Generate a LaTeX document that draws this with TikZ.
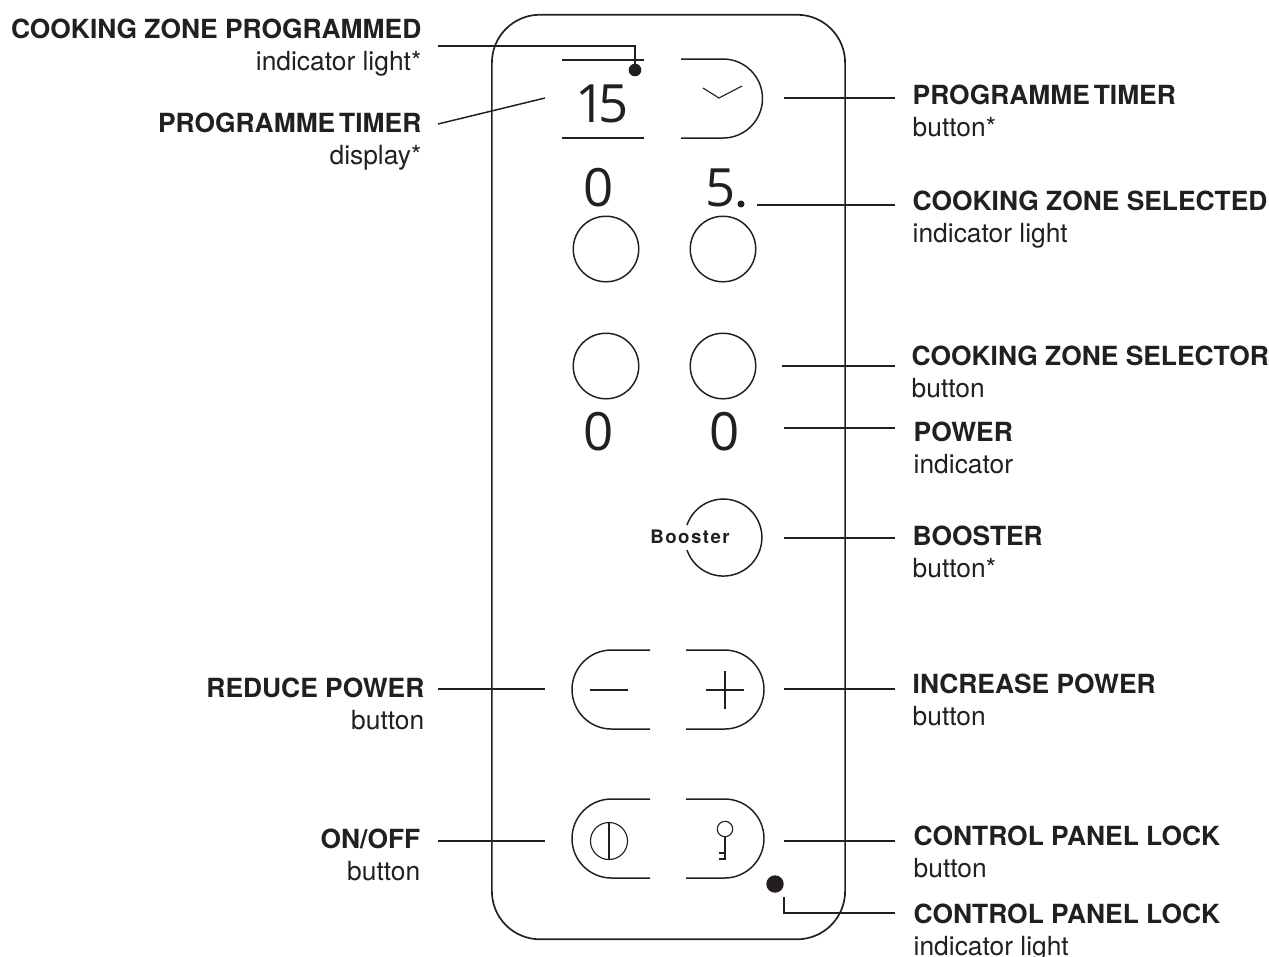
\documentclass[tikz,border=0pt]{standalone}
\usepackage{fontspec}
\setmainfont{TeX Gyre Heros}
\newfontfamily\digitfont{Open Sans}
\usetikzlibrary{positioning}
\definecolor{PanelInk}{RGB}{35, 31, 32}
\tikzset{
  % Outer panel outline
  panelbox/.style={
    rectangle, rounded corners=0.48cm, draw=PanelInk, line width=0.48pt,
    minimum width=3.53cm, minimum height=9.24cm, inner sep=0pt
  },
  % Round selector button
  roundbtn/.style={
    circle, draw=PanelInk, line width=0.42pt,
    minimum size=0.655cm, inner sep=0pt
  },
  % Half open button outline
  btnline/.style={draw=PanelInk, line width=0.42pt},
  % Small symbol strokes inside the buttons
  symline/.style={draw=PanelInk, line width=0.32pt},
  % Display digits
  digits/.style={
    font=\digitfont\fontsize{15}{15}\selectfont, text=PanelInk, inner sep=0pt
  },
  % Indicator light
  lamp/.style={circle, fill=PanelInk, inner sep=0pt},
  % Leader lines
  leader/.style={draw=PanelInk, line width=0.42pt},
  % Text beside the panel
  calloutleft/.style={
    anchor=east, align=right, text=PanelInk, inner sep=0pt,
    font=\fontsize{7.5}{9.1}\selectfont
  },
  calloutright/.style={
    anchor=west, align=left, text=PanelInk, inner sep=0pt,
    font=\fontsize{7.5}{9.1}\selectfont
  }
}
% name, leader y, leader start x, label x, label y, bold text, plain text
\newcommand{\RightCall}[7]{
  \coordinate (#1_from) at (#3,#2);
  \coordinate (#1_to) at (895,#2);
  \node[calloutright] (#1_lab) at (#4,#5) {\textbf{#6}\\#7};
  \draw[leader] (#1_from) -- (#1_to);
}
% name, label right x, label y, bold text, plain text
\newcommand{\LeftLabel}[5]{
  \node[calloutleft] (#1_lab) at (#2,#3) {\textbf{#4}\\#5};
}

\begin{document}
\begin{tikzpicture}[x=0.01cm, y=-0.01cm]
  \useasboundingbox (0,0) rectangle (1269,956);

  % ── Panel ─────────────────────────────────────────────────────────────────
  \node[panelbox] (panel) at (668.5,477) {};

  % ── Programme timer row ───────────────────────────────────────────────────
  \coordinate (disp_tl) at (562,60);
  \coordinate (disp_tr) at (644,60);
  \coordinate (disp_bl) at (562,138);
  \coordinate (disp_br) at (644,138);
  \draw[btnline] (disp_tl) -- (disp_tr);
  \draw[btnline] (disp_bl) -- (disp_br);
  \node[digits] (disp) at (602,104) {1\kern-0.15em 5};
  \node[lamp, minimum size=0.126cm] (prog_lamp) at (635,70) {};
  \draw[btnline] (681,59) -- (723,59) arc[start angle=-90, end angle=90, radius=39.5] -- (681,138);
  \draw[symline] (703,88) -- (719,98) -- (742,86);

  % ── Cooking zones ─────────────────────────────────────────────────────────
  \node[digits] (zone_a) at (599,188) {0};
  \node[digits] (zone_b) at (721,188) {5};
  \node[lamp, minimum size=0.07cm] (zone_lamp) at (741,204) {};
  \node[roundbtn] (sel_a) at (606,249) {};
  \node[roundbtn] (sel_b) at (723,249) {};
  \node[roundbtn] (sel_c) at (606,366) {};
  \node[roundbtn] (sel_d) at (723,366) {};
  \node[digits] (pow_a) at (599,432) {0};
  \node[digits] (pow_b) at (725,432) {0};

  % ── Booster ───────────────────────────────────────────────────────────────
  \draw[btnline] (687,525) arc[start angle=-161, end angle=161, radius=38.5];
  \node[font=\fontsize{5.3}{6}\selectfont\bfseries, text=PanelInk, inner sep=0pt] (boost)
        at (690,537) {B\kern0.08em o\kern0.08em o\kern0.08em s\kern0.08em t\kern0.08em e\kern0.08em r};

  % ── Reduce and increase ───────────────────────────────────────────────────
  \draw[btnline] (650,650) -- (611.5,650) arc[start angle=-90, end angle=-270, radius=39.5] -- (650,729);
  \draw[btnline] (686,650) -- (724.5,650) arc[start angle=-90, end angle=90, radius=39.5] -- (686,729);
  \draw[symline] (590,690) -- (628,690);
  \draw[symline] (706,690) -- (744,690);
  \draw[symline] (725,671) -- (725,709);

  % ── On/off and lock ───────────────────────────────────────────────────────
  \draw[btnline] (650,799) -- (611.5,799) arc[start angle=-90, end angle=-270, radius=39.5] -- (650,878);
  \draw[btnline] (686,799) -- (724.5,799) arc[start angle=-90, end angle=90, radius=39.5] -- (686,878);
  \node[circle, symline, minimum size=0.37cm, inner sep=0pt] (power) at (609,841) {};
  \draw[symline] (power.north) -- (power.south);
  \node[circle, symline, minimum size=0.154cm, inner sep=0pt] (key) at (725,829) {};
  \coordinate (key_end) at (725,859);
  \draw[symline] (key.south) -- (key_end) -- ++(-6,0);
  \draw[symline] (725,853) -- (719,853);
  \node[lamp, minimum size=0.174cm] (lock_lamp) at (775,884) {};

  % ── Labels on the left ────────────────────────────────────────────────────
  \LeftLabel{prog}{422}{47.5}{COOKING ZONE PROGRAMMED}{indicator light*}
  \coordinate (prog_from) at (438,46);
  \draw[leader] (prog_from) -| (prog_lamp.center);

  \LeftLabel{disp}{422}{141.5}{PROGRAMME\hspace{0.15em}TIMER}{display*}
  \coordinate (disp_from) at (438,124);
  \coordinate (disp_to) at (545,98);
  \draw[leader] (disp_from) -- (disp_to);

  \LeftLabel{red}{425}{704}{REDUCE POWER}{button}
  \coordinate (red_from) at (438,689);
  \coordinate (red_to) at (545,689);
  \draw[leader] (red_from) -- (red_to);

  \LeftLabel{onoff}{421}{855}{ON/OFF}{button}
  \coordinate (onoff_from) at (438,841);
  \coordinate (onoff_to) at (545,841);
  \draw[leader] (onoff_from) -- (onoff_to);

  % ── Labels on the right ───────────────────────────────────────────────────
  \RightCall{timer}{98}{784}{912}{111}{PROGRAMME\hspace{0.15em}TIMER}{button*}
  \RightCall{zone}{205}{757}{912}{220}{COOKING ZONE SELECTED}{indicator light}
  \RightCall{sel}{366}{782}{911}{371.5}{COOKING ZONE SELECTOR}{button}
  \RightCall{pow}{428}{784}{913}{448}{POWER}{indicator}
  \RightCall{boost}{538}{784}{912}{552}{BOOSTER}{button*}
  \RightCall{inc}{689}{784}{912}{699.5}{INCREASE POWER}{button}
  \RightCall{lock}{841}{784}{913}{851.5}{CONTROL PANEL LOCK}{button}

  \node[calloutright] (lamp_lab) at (913,933) {\textbf{CONTROL PANEL LOCK}\\indicator light};
  \coordinate (lamp_from) at (784,897);
  \coordinate (lamp_to) at (895,913);
  \draw[leader] (lamp_from) |- (lamp_to);

\end{tikzpicture}
\end{document}
